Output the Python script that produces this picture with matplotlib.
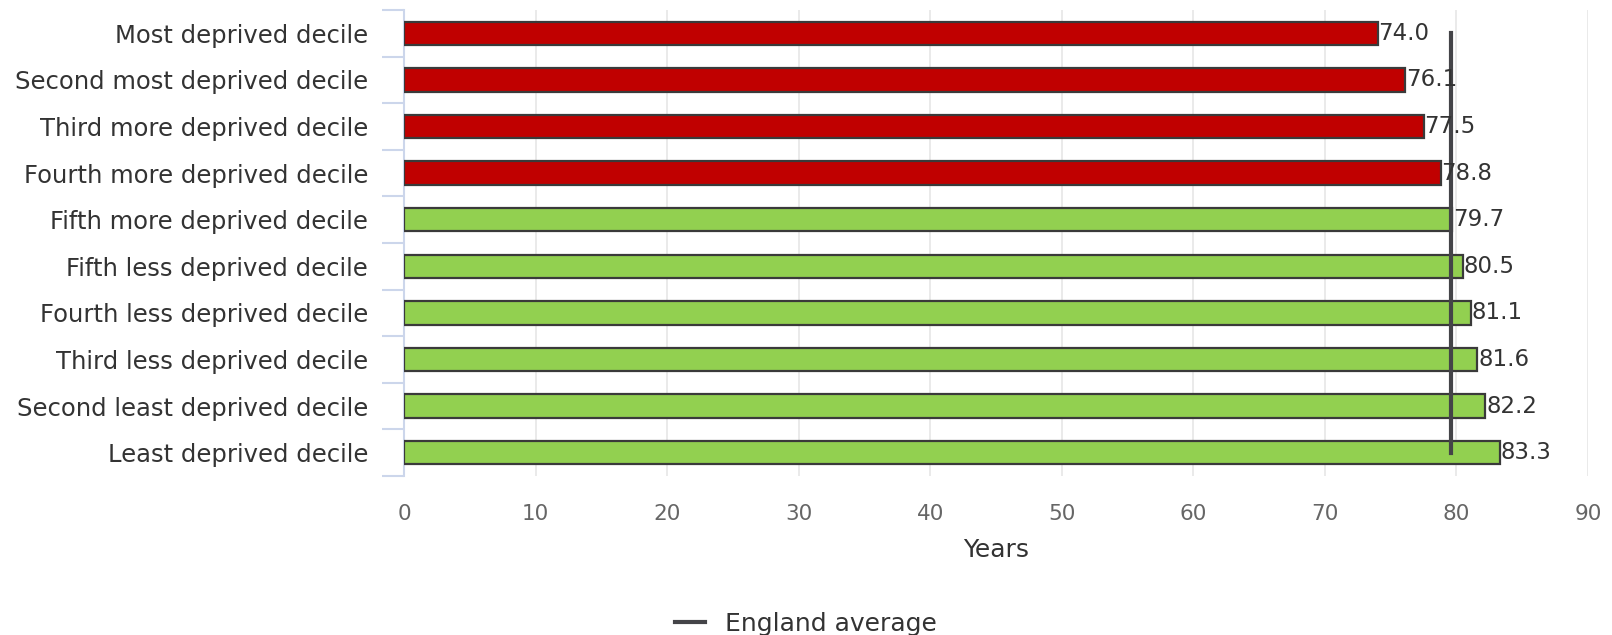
import numpy as np
from matplotlib import pyplot as plt
from matplotlib.lines import Line2D

categories = ["Most deprived decile", "Second most deprived decile",
              "Third more deprived decile", "Fourth more deprived decile",
              "Fifth more deprived decile", "Fifth less deprived decile",
              "Fourth less deprived decile", "Third less deprived decile",
              "Second least deprived decile", "Least deprived decile"]
values = [74.0, 76.1, 77.5, 78.8, 79.7, 80.5, 81.1, 81.6, 82.2, 83.3]
england_avg = [79.6] * 10
x_ticks = [0, 10, 20, 30, 40, 50, 60, 70, 80, 90]

red = "#c00000"
green = "#92d050"
colours = [red if v < england_avg[0] else green for v in values]

fig = plt.figure(figsize=(16.12, 6.35), dpi=100)
ax = fig.add_axes([404 / 1612, 1 - 476 / 635, (1588 - 404) / 1612, (476 - 10) / 635])

y = np.arange(len(categories))
ax.barh(y, values, height=0.5, color=colours, edgecolor="#3a3a3a", linewidth=1.6, zorder=3)
ax.plot(england_avg, y, color="#444448", linewidth=3, zorder=4)

for yi, v in zip(y, values):
    ax.text(v + 0.05, yi, "%.1f" % v, va="center", ha="left", fontsize=16.5, color="#333333", zorder=5)

ax.set_xlim(0, 90)
ax.set_ylim(len(categories) - 0.5, -0.5)
ax.set_xticks(x_ticks)
ax.set_yticks(y)
ax.set_yticklabels(categories)
ax.set_yticks(np.arange(-0.5, len(categories) + 0.5, 1), minor=True)

ax.tick_params(axis="y", which="major", length=0, pad=26, labelsize=17.5, labelcolor="#333333")
ax.tick_params(axis="y", which="minor", length=16, width=1.5, color="#ccd6eb")
ax.tick_params(axis="x", length=0, pad=20, labelsize=15.5, labelcolor="#666666")

ax.grid(axis="x", color="#e6e6e6", linewidth=1.2, zorder=0)
for s in ["top", "right", "bottom"]:
    ax.spines[s].set_visible(False)
ax.spines["left"].set_color("#ccd6eb")
ax.spines["left"].set_linewidth(1.5)

ax.set_xlabel("Years", fontsize=18, color="#333333", labelpad=10)

handle = Line2D([], [], color="#444448", linewidth=3)
fig.legend([handle], ["England average"], loc="center", bbox_to_anchor=(0.5, 1 - 624 / 635),
           frameon=False, fontsize=18, handlelength=1.2, labelcolor="#333333")

fig.savefig("out.png", dpi=100)
